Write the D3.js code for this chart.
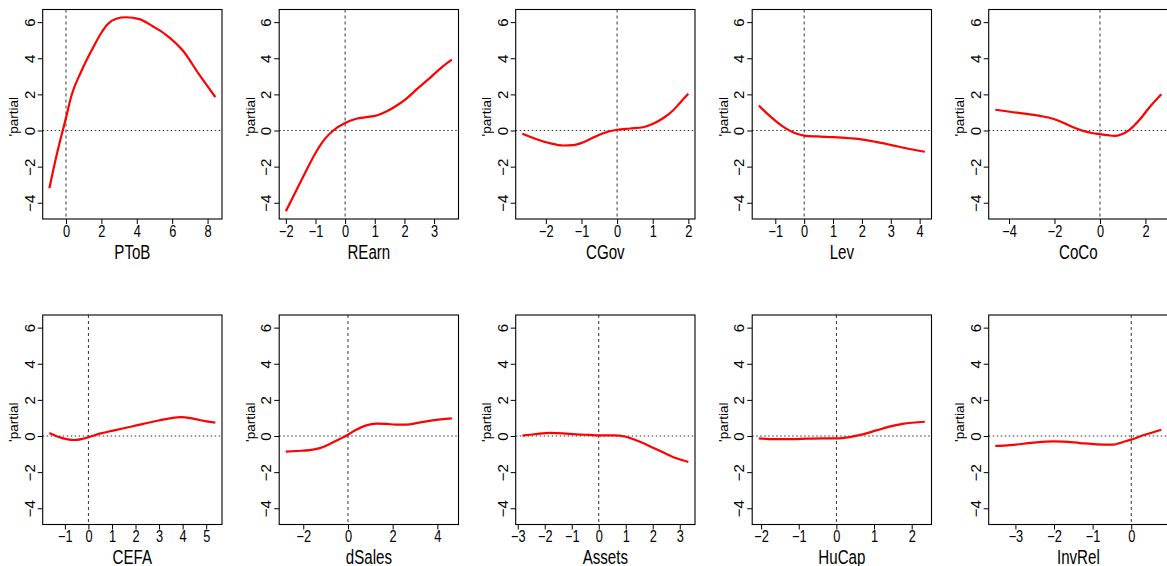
<!DOCTYPE html>
<html>
<head>
<meta charset="utf-8">
<script src="https://cdn.jsdelivr.net/npm/d3@7"></script>
<style>
  html, body { margin: 0; padding: 0; background: #fff; }
  svg { display: block; }
  text { font-family: "Liberation Sans", Arial, sans-serif; fill: #000; }
</style>
</head>
<body>
<svg id="chart" width="1167" height="566"></svg>
<script>
// Partial effect curves, one per predictor
const panelNames = ["PToB", "REarn", "CGov", "Lev", "CoCo", "CEFA", "dSales", "Assets", "HuCap", "InvRel"];

const ptobX = [-0.94, -0.5, 0, 0.3, 0.86, 1.52, 1.99, 2.37, 2.84, 3.4, 4.15, 4.9, 5.65, 6.59, 7.53, 8.44];
const ptobY = [-3.2, -1.25, 0.7, 1.9, 3.27, 4.57, 5.4, 5.9, 6.19, 6.27, 6.17, 5.77, 5.3, 4.44, 3.09, 1.85];

const rearnX = [-2.0, -1.64, -1.3, -0.97, -0.69, -0.4, 0, 0.38, 0.72, 1.06, 1.39, 1.73, 2.07, 2.4, 2.85, 3.3, 3.6];
const rearnY = [-4.47, -3.29, -2.18, -1.16, -0.48, 0.0, 0.41, 0.65, 0.74, 0.83, 1.05, 1.37, 1.77, 2.26, 2.9, 3.55, 3.92];

const cgovX = [-2.66, -2.26, -1.89, -1.51, -1.23, -0.95, -0.67, -0.39, 0, 0.36, 0.73, 1.01, 1.29, 1.57, 1.8, 2.0];
const cgovY = [-0.18, -0.48, -0.7, -0.83, -0.81, -0.65, -0.39, -0.15, 0.04, 0.11, 0.18, 0.37, 0.68, 1.11, 1.61, 2.03];

const levX = [-1.57, -1.3, -0.95, -0.61, -0.26, 0, 0.43, 1.0, 1.57, 2.03, 2.49, 2.95, 3.53, 4.18];
const levY = [1.39, 0.96, 0.48, 0.09, -0.18, -0.28, -0.33, -0.37, -0.43, -0.5, -0.63, -0.78, -0.98, -1.18];

const cocoX = [-4.6, -3.96, -3.23, -2.64, -2.06, -1.62, -1.18, -0.74, -0.31, 0, 0.35, 0.64, 0.93, 1.3, 1.74, 2.18, 2.7];
const cocoY = [1.15, 1.04, 0.92, 0.81, 0.65, 0.43, 0.18, -0.02, -0.15, -0.2, -0.26, -0.3, -0.22, 0.04, 0.59, 1.29, 2.01];

const cefaX = [-1.66, -1.29, -0.93, -0.58, -0.23, 0, 0.48, 1.05, 1.89, 2.74, 3.45, 3.94, 4.44, 5.0, 5.39];
const cefaY = [0.17, -0.04, -0.17, -0.22, -0.15, -0.07, 0.13, 0.3, 0.54, 0.79, 0.98, 1.05, 0.96, 0.81, 0.74];

const dsalesX = [-2.78, -2.3, -1.71, -1.26, -0.82, -0.37, 0, 0.37, 0.82, 1.26, 1.71, 2.15, 2.6, 3.19, 3.79, 4.65];
const dsalesY = [-0.87, -0.83, -0.78, -0.67, -0.44, -0.17, 0.07, 0.35, 0.59, 0.68, 0.67, 0.63, 0.63, 0.74, 0.87, 0.98];

const assetsX = [-2.83, -2.31, -1.82, -1.33, -0.84, -0.34, 0, 0.52, 1.01, 1.38, 1.87, 2.36, 2.85, 3.32];
const assetsY = [0.02, 0.11, 0.17, 0.15, 0.09, 0.06, 0.04, 0.04, -0.04, -0.24, -0.55, -0.89, -1.22, -1.44];

const hucapX = [-2.06, -1.67, -1.23, -0.79, -0.35, 0, 0.35, 0.7, 1.06, 1.41, 1.76, 2.35];
const hucapY = [-0.13, -0.17, -0.17, -0.15, -0.13, -0.13, -0.06, 0.09, 0.31, 0.52, 0.67, 0.79];

const invrelX = [-3.52, -3.14, -2.79, -2.45, -2.02, -1.76, -1.33, -0.9, -0.47, -0.21, 0, 0.31, 0.78];
const invrelY = [-0.55, -0.5, -0.43, -0.35, -0.3, -0.31, -0.39, -0.46, -0.48, -0.33, -0.2, 0.04, 0.35];

// Axis tick labels
const yTicks = [-4, -2, 0, 2, 4, 6];
const ptobTicks = [0, 2, 4, 6, 8];
const rearnTicks = [-2, -1, 0, 1, 2, 3];
const cgovTicks = [-2, -1, 0, 1, 2];
const levTicks = [-1, 0, 1, 2, 3, 4];
const cocoTicks = [-4, -2, 0, 2];
const cefaTicks = [-1, 0, 1, 2, 3, 4, 5];
const dsalesTicks = [-2, 0, 2, 4];
const assetsTicks = [-3, -2, -1, 0, 1, 2, 3];
const hucapTicks = [-2, -1, 0, 1, 2];
const invrelTicks = [-3, -2, -1, 0];

const panels = [
  { name: panelNames[0], xs: ptobX, ys: ptobY, ticks: ptobTicks },
  { name: panelNames[1], xs: rearnX, ys: rearnY, ticks: rearnTicks },
  { name: panelNames[2], xs: cgovX, ys: cgovY, ticks: cgovTicks },
  { name: panelNames[3], xs: levX, ys: levY, ticks: levTicks },
  { name: panelNames[4], xs: cocoX, ys: cocoY, ticks: cocoTicks },
  { name: panelNames[5], xs: cefaX, ys: cefaY, ticks: cefaTicks },
  { name: panelNames[6], xs: dsalesX, ys: dsalesY, ticks: dsalesTicks },
  { name: panelNames[7], xs: assetsX, ys: assetsY, ticks: assetsTicks },
  { name: panelNames[8], xs: hucapX, ys: hucapY, ticks: hucapTicks },
  { name: panelNames[9], xs: invrelX, ys: invrelY, ticks: invrelTicks }
];

// Layout of the 2 x 5 grid
const plotW = 179.3, plotH = 209.5;
const colStep = 236.5, rowStep = 305.5;
const left0 = 42.7, top0 = 9.5;

// 4% padding on each side of the data range
function padded(ext) {
  const d = (ext[1] - ext[0]) * 0.04;
  return [ext[0] - d, ext[1] + d];
}

const fmt = d => d < 0 ? "\u2212" + Math.abs(d) : String(d);

const allY = panels.flatMap(p => p.ys);
const yDomain = padded(d3.extent(allY));

const svg = d3.select("#chart");

panels.forEach((p, i) => {
  const col = i % 5, row = Math.floor(i / 5);
  const x0 = left0 + col * colStep;
  const y0 = top0 + row * rowStep;
  const g = svg.append("g").attr("transform", `translate(${x0},${y0})`);

  const x = d3.scaleLinear().domain(padded(d3.extent(p.xs))).range([0, plotW]);
  const y = d3.scaleLinear().domain(yDomain).range([plotH, 0]);

  // Reference lines at zero
  g.append("line")
    .attr("x1", 0).attr("x2", plotW)
    .attr("y1", y(0)).attr("y2", y(0))
    .attr("stroke", "#333").attr("stroke-width", 1.1)
    .attr("stroke-dasharray", "1.5,2.5");
  g.append("line")
    .attr("x1", x(0)).attr("x2", x(0))
    .attr("y1", 0).attr("y2", plotH)
    .attr("stroke", "#333").attr("stroke-width", 1)
    .attr("stroke-dasharray", "3,3");

  // Partial effect curve
  const pts = p.xs.map((v, k) => [v, p.ys[k]]);
  g.append("path")
    .datum(pts)
    .attr("fill", "none")
    .attr("stroke", "#ff0000")
    .attr("stroke-width", 2.2)
    .attr("stroke-linejoin", "round")
    .attr("d", d3.line().x(d => x(d[0])).y(d => y(d[1])).curve(d3.curveMonotoneX));

  // Frame
  g.append("rect")
    .attr("x", 0).attr("y", 0).attr("width", plotW).attr("height", plotH)
    .attr("fill", "none").attr("stroke", "#000").attr("stroke-width", 1.1);

  // Bottom axis
  const xAxis = d3.axisBottom(x)
    .tickValues(p.ticks)
    .tickSize(5)
    .tickFormat(fmt);
  const xa = g.append("g").attr("transform", `translate(0,${plotH})`).call(xAxis);
  xa.select(".domain").remove();
  xa.selectAll(".tick line").attr("stroke", "#000").attr("stroke-width", 1);
  xa.selectAll(".tick text")
    .attr("font-size", 16)
    .attr("font-family", "Liberation Sans, Arial, sans-serif")
    .attr("fill", "#000")
    .attr("y", 0).attr("dy", 0)
    .attr("transform", "translate(0,17.5) scale(0.8,1)");

  // Left axis with labels set parallel to it
  const yAxis = d3.axisLeft(y)
    .tickValues(yTicks)
    .tickSize(5)
    .tickFormat(fmt);
  const ya = g.append("g").call(yAxis);
  ya.select(".domain").remove();
  ya.selectAll(".tick line").attr("stroke", "#000").attr("stroke-width", 1);
  ya.selectAll(".tick text")
    .attr("font-size", 15)
    .attr("font-family", "Liberation Sans, Arial, sans-serif")
    .attr("fill", "#000")
    .attr("x", 0).attr("dy", 0)
    .attr("text-anchor", "middle")
    .attr("transform", "translate(-8.2,0) rotate(-90)");

  // Axis titles
  g.append("text")
    .attr("text-anchor", "middle")
    .attr("font-size", 21)
    .attr("transform", `translate(${plotW / 2},${plotH + 39.5}) scale(0.72,1)`)
    .text(p.name);

  g.append("text")
    .attr("text-anchor", "middle")
    .attr("font-size", 13.5)
    .attr("transform", `translate(-24.5,${plotH / 2 + 2.5}) rotate(-90)`)
    .text("'partial");
});
</script>
</body>
</html>
